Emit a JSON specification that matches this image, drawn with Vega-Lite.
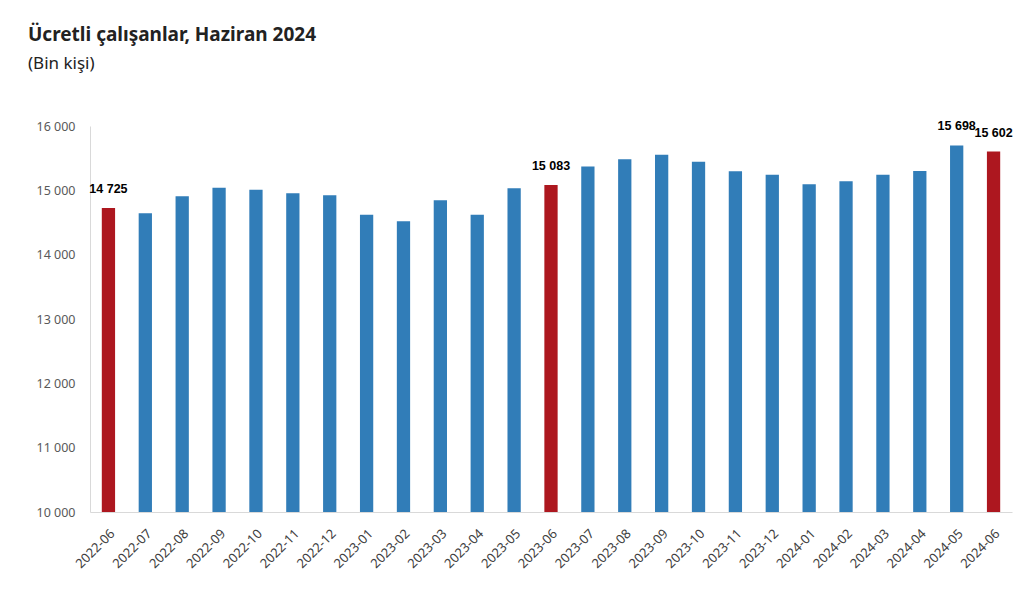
{
  "$schema": "https://vega.github.io/schema/vega-lite/v6.json",
  "autosize": "none",
  "width": 922,
  "height": 386,
  "padding": {"left": 90, "top": 126, "right": 13, "bottom": 83},
  "background": "white",
  "title": {
    "text": "Ücretli çalışanlar, Haziran 2024",
    "subtitle": "(Bin kişi)",
    "anchor": "start",
    "frame": "group",
    "dx": -62,
    "offset": 48,
    "font": "Noto Sans",
    "fontSize": 19,
    "fontWeight": "bold",
    "color": "#222222",
    "subtitleFont": "Noto Sans",
    "subtitleFontSize": 17,
    "subtitleColor": "#222222",
    "subtitlePadding": 11
  },
  "data": {
    "values": [
      {"month": "2022-06", "value": 14725, "hl": "y", "lbl": "y"},
      {"month": "2022-07", "value": 14642, "hl": "n", "lbl": "n"},
      {"month": "2022-08", "value": 14907, "hl": "n", "lbl": "n"},
      {"month": "2022-09", "value": 15042, "hl": "n", "lbl": "n"},
      {"month": "2022-10", "value": 15011, "hl": "n", "lbl": "n"},
      {"month": "2022-11", "value": 14953, "hl": "n", "lbl": "n"},
      {"month": "2022-12", "value": 14922, "hl": "n", "lbl": "n"},
      {"month": "2023-01", "value": 14622, "hl": "n", "lbl": "n"},
      {"month": "2023-02", "value": 14518, "hl": "n", "lbl": "n"},
      {"month": "2023-03", "value": 14845, "hl": "n", "lbl": "n"},
      {"month": "2023-04", "value": 14622, "hl": "n", "lbl": "n"},
      {"month": "2023-05", "value": 15031, "hl": "n", "lbl": "n"},
      {"month": "2023-06", "value": 15083, "hl": "y", "lbl": "y"},
      {"month": "2023-07", "value": 15369, "hl": "n", "lbl": "n"},
      {"month": "2023-08", "value": 15482, "hl": "n", "lbl": "n"},
      {"month": "2023-09", "value": 15555, "hl": "n", "lbl": "n"},
      {"month": "2023-10", "value": 15446, "hl": "n", "lbl": "n"},
      {"month": "2023-11", "value": 15295, "hl": "n", "lbl": "n"},
      {"month": "2023-12", "value": 15244, "hl": "n", "lbl": "n"},
      {"month": "2024-01", "value": 15093, "hl": "n", "lbl": "n"},
      {"month": "2024-02", "value": 15140, "hl": "n", "lbl": "n"},
      {"month": "2024-03", "value": 15244, "hl": "n", "lbl": "n"},
      {"month": "2024-04", "value": 15300, "hl": "n", "lbl": "n"},
      {"month": "2024-05", "value": 15698, "hl": "n", "lbl": "y"},
      {"month": "2024-06", "value": 15602, "hl": "y", "lbl": "y"}
    ]
  },
  "encoding": {
    "x": {
      "field": "month",
      "type": "ordinal",
      "sort": null,
      "scale": {"paddingInner": 0.64, "paddingOuter": 0.32},
      "axis": {
        "title": null,
        "labelAngle": -45,
        "labelFont": "Noto Sans",
        "labelFontSize": 13,
        "labelColor": "#404040",
        "ticks": false,
        "labelPadding": 15,
        "domainColor": "#D9D9D9",
        "grid": false
      }
    },
    "y": {
      "field": "value",
      "type": "quantitative",
      "scale": {"domain": [10000, 16000], "nice": false, "zero": false},
      "axis": {
        "title": null,
        "values": [10000, 11000, 12000, 13000, 14000, 15000, 16000],
        "labelExpr": "replace(format(datum.value, ',d'), ',', ' ')",
        "labelFont": "Noto Sans",
        "labelFontSize": 12.5,
        "labelColor": "#595959",
        "ticks": false,
        "labelPadding": 15,
        "domainColor": "#D9D9D9",
        "grid": false
      }
    }
  },
  "layer": [
    {
      "mark": {"type": "bar"},
      "encoding": {
        "y2": {"datum": 10000},
        "color": {
          "field": "hl",
          "type": "nominal",
          "scale": {"domain": ["n", "y"], "range": ["#317DB8", "#AD171F"]},
          "legend": null
        }
      }
    },
    {
      "transform": [{"filter": "datum.lbl == 'y'"}],
      "mark": {
        "type": "text",
        "baseline": "middle",
        "dy": -19,
        "font": "Liberation Sans",
        "fontSize": 12.5,
        "fontWeight": "bold",
        "color": "#000000"
      },
      "encoding": {
        "text": {"field": "value", "type": "quantitative", "format": ",d"}
      }
    }
  ],
  "config": {
    "view": {"stroke": null},
    "locale": {
      "number": {"decimal": ",", "thousands": " ", "grouping": [3], "currency": ["", ""]}
    }
  }
}
